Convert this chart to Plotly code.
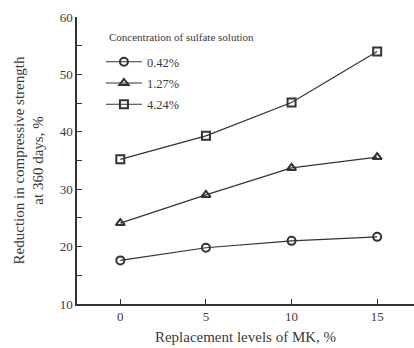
import plotly.graph_objects as go

mk_levels = [0, 5, 10, 15]
series_names = ["0.42%", "1.27%", "4.24%"]
reduction_042 = [17.6, 19.8, 21.0, 21.7]
reduction_127 = [24.1, 29.0, 33.7, 35.6]
reduction_424 = [35.2, 39.3, 45.1, 54.0]
y_ticks = [10, 20, 30, 40, 50, 60]
x_ticks = [0, 5, 10, 15]
legend_title = "Concentration of sulfate solution"

series_values = [reduction_042, reduction_127, reduction_424]
symbols = ["circle-open", "triangle-up-open", "square-open"]
col = "#333333"
txt = "#3a3a3a"
serif = "Liberation Serif"

fig = go.Figure()
for name, vals, sym in zip(series_names, series_values, symbols):
    fig.add_trace(go.Scatter(
        x=mk_levels, y=vals, name=name, mode="lines+markers", legendgroup=name,
        line=dict(color=col, width=1.2),
        marker=dict(symbol=sym, size=8, color=col, line=dict(color=col, width=2)),
    ))

fig.add_annotation(
    xref="paper", yref="paper", x=0.088, y=0.932, xanchor="left", yanchor="middle",
    text=legend_title, showarrow=False,
    font=dict(size=11, family=serif, color=txt),
)

fig.update_layout(
    width=414, height=348,
    margin=dict(l=77, r=0, t=17, b=44),
    plot_bgcolor="white", paper_bgcolor="white",
    font=dict(family=serif, color=txt, size=12),
    showlegend=True,
    legend=dict(
        x=0.071, y=0.895, xanchor="left", yanchor="top",
        bgcolor="rgba(0,0,0,0)",
        font=dict(size=12.5, family=serif, color=txt),
        itemwidth=36, tracegroupgap=2,
    ),
    xaxis=dict(
        range=[-2.53, 17.15], tickvals=x_ticks, ticks="inside", ticklen=5,
        tickcolor=col, showline=True, linecolor=col, linewidth=1.5,
        showgrid=False, zeroline=False, mirror=False,
        tickfont=dict(size=13, family=serif, color=txt),
        title=dict(text="Replacement levels of MK, %", font=dict(size=15, family=serif, color=txt), standoff=8),
    ),
    yaxis=dict(
        range=[10, 60], tickvals=y_ticks, ticks="inside", ticklen=5,
        tickcolor=col, showline=True, linecolor=col, linewidth=1.5,
        showgrid=False, zeroline=False, mirror=False,
        minor=dict(dtick=5, tick0=15, ticks="inside", ticklen=5, tickcolor=col, showgrid=False),
        tickfont=dict(size=13, family=serif, color=txt),
        title=dict(text="Reduction in compressive strength<br>at 360 days, %", font=dict(size=15, family=serif, color=txt), standoff=12),
    ),
)

fig.write_html("out.html")
